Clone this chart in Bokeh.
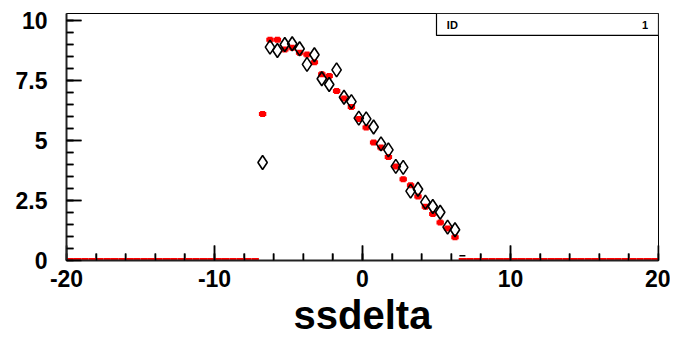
from bokeh.plotting import figure
from bokeh.models import Range1d, FixedTicker, NumeralTickFormatter
from bokeh.core.properties import value
from bokeh.embed import file_html
from bokeh.resources import INLINE

# histogram: 80 bins of width 0.5 from -20 to 20
x_min, x_max, bin_w = -20.0, 20.0, 0.5
centers = [x_min + bin_w * (i + 0.5) for i in range(80)]

# measured contents for bins -7 ... 6.5 (centres -6.75 ... 6.25)
red_core = [6.10, 9.20, 9.20, 8.79, 8.86, 8.65, 8.58, 8.26, 7.76, 7.69, 7.06, 6.75,
            6.39, 5.89, 5.54, 4.92, 4.71, 4.31, 3.92, 3.39, 3.14, 2.67, 2.24, 1.94,
            1.58, 1.33, 0.97]
black_core = [4.08, 8.89, 8.75, 9.00, 9.03, 8.82, 8.17, 8.57, 7.57, 7.33, 7.94, 6.80,
              6.62, 5.93, 5.90, 5.56, 4.86, 4.61, 3.92, 3.88, 2.89, 2.97, 2.43, 2.25,
              2.01, 1.39, 1.28]
red_values = [0.0] * 26 + red_core + [0.0] * 27
black_values = [0.0] * 26 + black_core + [0.0] * 27
extra_x = [6.75]
extra_y = [0.2]

stat_name = "ID"
stat_value = "1"
x_title = "ssdelta"
x_ticks = [-20, -10, 0, 10, 20]
x_minor = [-20 + 2 * i for i in range(21)]
y_ticks = [0, 2.5, 5, 7.5, 10]
y_minor = [0.5 * i for i in range(21)]

FONT = "Liberation Sans"
y_top = 10.29
FW, FH = 592, 247

p = figure(frame_width=FW, frame_height=FH, output_backend="svg", toolbar_location=None,
           x_range=Range1d(x_min, x_max), y_range=Range1d(0, y_top),
           min_border_left=66, min_border_right=12, min_border_top=13, min_border_bottom=60,
           background_fill_color="white", border_fill_color="white")
p.grid.visible = False
p.outline_line_color = "black"
p.outline_line_width = 1

for ax in (p.xaxis[0], p.yaxis[0]):
    ax.major_tick_in = 15
    ax.major_tick_out = 0
    ax.minor_tick_in = 7
    ax.minor_tick_out = 0
    ax.major_tick_line_color = "black"
    ax.minor_tick_line_color = "black"
    ax.major_tick_line_width = 1.5
    ax.minor_tick_line_width = 1.5
    ax.axis_line_width = 2
    ax.axis_line_color = "#222222"
    ax.major_label_text_font = FONT
    ax.major_label_text_font_style = "bold"
    ax.major_label_text_font_size = "23px"
    ax.major_label_text_color = "black"

p.xaxis.ticker = FixedTicker(ticks=x_ticks, minor_ticks=x_minor)
p.yaxis.ticker = FixedTicker(ticks=y_ticks, minor_ticks=y_minor)
p.xaxis.formatter = NumeralTickFormatter(format="0")
p.yaxis.formatter = NumeralTickFormatter(format="0.[0]")
p.xaxis.major_label_standoff = 9
p.yaxis.major_label_standoff = 19
p.xaxis.axis_label = x_title
p.xaxis.axis_label_text_font = FONT
p.xaxis.axis_label_text_font_style = "bold"
p.xaxis.axis_label_text_font_size = "40px"
p.xaxis.axis_label_standoff = 3
p.xaxis.axis_label_text_color = "black"

# inward tick marks as thin rectangles centred on the frame edge (outer half is clipped)
p.rect(x_minor, [0] * len(x_minor), width=1.5, height=14, width_units="screen",
       height_units="screen", fill_color="black", line_color=None)
p.rect(x_ticks, [0] * len(x_ticks), width=1.5, height=30, width_units="screen",
       height_units="screen", fill_color="black", line_color=None)
p.rect([x_min] * len(y_minor), y_minor, width=14, height=1.5, width_units="screen",
       height_units="screen", fill_color="black", line_color=None)
p.rect([x_min] * len(y_ticks), y_ticks, width=30, height=1.5, width_units="screen",
       height_units="screen", fill_color="black", line_color=None)

# red histogram
zx = [c for c, v in zip(centers, red_values) if v == 0]
zy = [v for v in red_values if v == 0]
nx = [c for c, v in zip(centers, red_values) if v != 0]
ny = [v for v in red_values if v != 0]
p.rect(zx, zy, width=bin_w, height=5, width_units="data", height_units="screen",
       fill_color="red", line_color=None)
p.rect(nx, ny, width=bin_w, height=4, width_units="data", height_units="screen",
       fill_color="red", line_color=None)
p.rect(nx, ny, width=5, height=6, width_units="screen", height_units="screen",
       fill_color="red", line_color=None)

# black diamonds
bx = [c for c, v in zip(centers, black_values) if v != 0]
by = [v for v in black_values if v != 0]
p.scatter(bx, by, marker="diamond", size=14, fill_color=None, line_color="black", line_width=1.6)
p.scatter(extra_x, extra_y, marker="dash", size=6, line_color="black", line_width=1.5)

# stats box
p.quad(left=[5.0], right=[20.0], bottom=[9.375], top=[y_top], fill_color="white",
       line_color="black", line_width=1.2)
p.text([5.7], [9.83], text=[stat_name], text_font=value(FONT), text_font_style="bold",
       text_font_size="11px", text_baseline="middle", text_align="left", text_color="black")
p.text([19.3], [9.83], text=[stat_value], text_font=value(FONT), text_font_style="bold",
       text_font_size="11px", text_baseline="middle", text_align="right", text_color="black")

open("out.html", "w").write(file_html(p, INLINE))
